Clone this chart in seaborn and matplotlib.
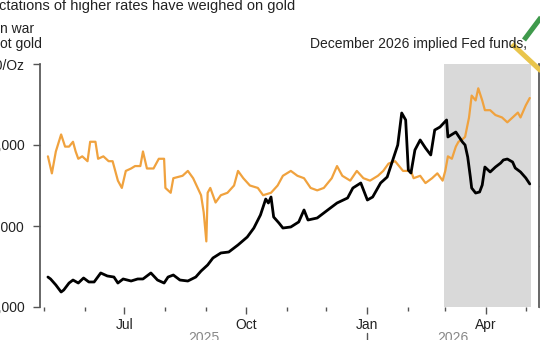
# %% IMPORTS
import matplotlib.dates as mdates
import matplotlib.pyplot as plt
import matplotlib.transforms as mtransforms
from matplotlib.lines import Line2D
import pandas as pd
import seaborn as sns

# %% DATA
gold_dates = [
    "2025-05-04", "2025-05-06", "2025-05-10", "2025-05-14", "2025-05-16", "2025-05-20",
    "2025-05-23", "2025-05-27", "2025-05-31", "2025-06-04", "2025-06-08", "2025-06-13",
    "2025-06-18", "2025-06-23", "2025-06-26", "2025-06-30", "2025-07-06", "2025-07-11",
    "2025-07-15", "2025-07-21", "2025-07-26", "2025-07-31", "2025-08-03", "2025-08-07",
    "2025-08-12", "2025-08-18", "2025-08-24", "2025-08-28", "2025-09-02", "2025-09-06",
    "2025-09-12", "2025-09-18", "2025-09-25", "2025-10-02", "2025-10-07", "2025-10-12",
    "2025-10-16", "2025-10-18", "2025-10-20", "2025-10-22", "2025-10-26", "2025-10-29",
    "2025-11-04", "2025-11-10", "2025-11-14", "2025-11-17", "2025-11-24", "2025-12-02",
    "2025-12-09", "2025-12-17", "2025-12-21", "2025-12-27", "2026-01-01", "2026-01-05",
    "2026-01-11", "2026-01-16", "2026-01-21", "2026-01-24", "2026-01-27", "2026-01-30",
    "2026-02-01", "2026-02-03", "2026-02-06", "2026-02-10", "2026-02-14", "2026-02-18",
    "2026-02-21", "2026-02-25", "2026-03-02", "2026-03-03", "2026-03-09", "2026-03-14",
    "2026-03-16", "2026-03-18", "2026-03-20", "2026-03-21", "2026-03-24", "2026-03-27",
    "2026-03-29", "2026-03-31", "2026-04-04", "2026-04-08", "2026-04-12", "2026-04-14",
    "2026-04-17", "2026-04-21", "2026-04-23", "2026-04-27", "2026-05-01", "2026-05-04",
]
gold_price = [
    3370, 3346, 3272, 3185, 3210, 3296,
    3333, 3296, 3358, 3309, 3309, 3420,
    3383, 3370, 3296, 3346, 3321, 3346,
    3346, 3420, 3333, 3296, 3370, 3395,
    3333, 3321, 3370, 3444, 3519, 3605,
    3667, 3679, 3766, 3864, 3975, 4136,
    4333, 4284, 4358, 4111, 4037, 3975,
    3988, 4050, 4198, 4074, 4099, 4198,
    4284, 4346, 4469, 4531, 4321, 4358,
    4531, 4605, 4852, 5000, 5395, 5309,
    4691, 4654, 4938, 5062, 4963, 4877,
    5185, 5222, 5309, 5099, 5160, 5037,
    5000, 4852, 4605, 4469, 4407, 4420,
    4506, 4728, 4667, 4728, 4778, 4815,
    4827, 4790, 4716, 4667, 4593, 4519,
]

fed_dates = [
    "2025-05-04", "2025-05-07", "2025-05-10", "2025-05-14", "2025-05-17", "2025-05-20",
    "2025-05-23", "2025-05-25", "2025-05-27", "2025-05-30", "2025-06-03", "2025-06-05",
    "2025-06-09", "2025-06-11", "2025-06-15", "2025-06-19", "2025-06-22", "2025-06-26",
    "2025-06-29", "2025-07-02", "2025-07-06", "2025-07-09", "2025-07-13", "2025-07-15",
    "2025-07-18", "2025-07-23", "2025-07-27", "2025-07-31", "2025-08-01", "2025-08-05",
    "2025-08-07", "2025-08-14", "2025-08-18", "2025-08-22", "2025-08-28", "2025-08-30",
    "2025-09-01", "2025-09-02", "2025-09-04", "2025-09-08", "2025-09-12", "2025-09-17",
    "2025-09-22", "2025-09-25", "2025-09-29", "2025-10-04", "2025-10-10", "2025-10-14",
    "2025-10-20", "2025-10-25", "2025-10-29", "2025-11-04", "2025-11-09", "2025-11-14",
    "2025-11-19", "2025-11-24", "2025-11-29", "2025-12-05", "2025-12-09", "2025-12-13",
    "2025-12-19", "2025-12-24", "2025-12-29", "2026-01-03", "2026-01-09", "2026-01-13",
    "2026-01-17", "2026-01-22", "2026-01-28", "2026-02-03", "2026-02-05", "2026-02-10",
    "2026-02-14", "2026-02-19", "2026-02-23", "2026-02-27", "2026-03-01", "2026-03-03",
    "2026-03-06", "2026-03-09", "2026-03-11", "2026-03-14", "2026-03-16", "2026-03-19",
    "2026-03-21", "2026-03-24", "2026-03-26", "2026-03-29", "2026-03-31", "2026-04-04",
    "2026-04-08", "2026-04-13", "2026-04-17", "2026-04-21", "2026-04-25", "2026-04-27",
    "2026-05-01", "2026-05-04",
]
fed_rate = [
    3.12, 3.05, 3.14, 3.21, 3.16, 3.16,
    3.18, 3.14, 3.11, 3.12, 3.10, 3.18,
    3.18, 3.11, 3.12, 3.10, 3.10, 3.02,
    2.99, 3.06, 3.07, 3.08, 3.08, 3.14,
    3.07, 3.07, 3.11, 3.11, 2.99, 2.97,
    3.03, 3.04, 3.06, 3.03, 2.96, 2.89,
    2.77, 2.97, 2.99, 2.93, 2.96, 2.97,
    3.00, 3.06, 3.03, 3.00, 2.99, 2.96,
    2.97, 3.00, 3.04, 3.06, 3.04, 3.03,
    2.99, 2.98, 2.99, 3.03, 3.08, 3.04,
    3.02, 3.06, 3.03, 3.02, 3.04, 3.06,
    3.09, 3.10, 3.06, 3.06, 3.03, 3.04,
    3.01, 3.03, 3.05, 3.02, 3.06, 3.12,
    3.11, 3.16, 3.18, 3.19, 3.20, 3.28,
    3.37, 3.35, 3.40, 3.35, 3.31, 3.31,
    3.29, 3.28, 3.26, 3.28, 3.30, 3.28,
    3.33, 3.36,
]

war_start, war_end = "2026-02-28", "2026-05-05"
x_range = ("2025-04-28", "2026-05-11")
gold_ticks = [3000, 4000, 5000, 6000]
gold_tick_labels = ["3,000", "4,000", "5,000", "$6,000/Oz"]
fed_ticks = [2.5, 2.75, 3.0, 3.25, 3.5]
year_labels = ["2025", "2026"]

gold_df = pd.DataFrame({"date": pd.to_datetime(gold_dates), "price": gold_price})
fed_df = pd.DataFrame({"date": pd.to_datetime(fed_dates), "rate": fed_rate})

# %% STYLE
sns.set_theme(style="white")
plt.rcParams["font.family"] = ["Liberation Sans", "DejaVu Sans"]
axis_grey = "#555555"
text_col = "#222222"
orange = "#f0a23e"

# %% VISUALISE
W, H = 540, 340
fig = plt.figure(figsize=(W / 100, H / 100), dpi=100)
ax = fig.add_axes([40 / W, 1 - 307 / H, 499 / W, 243 / H])
ax2 = ax.twinx()

# shaded Iran war period + implied Fed funds go on the back axis
ax2.axvspan(pd.Timestamp(war_start), pd.Timestamp(war_end), color="#d9d9d9", lw=0, zorder=0)
sns.lineplot(data=fed_df, x="date", y="rate", ax=ax2, color=orange, lw=1.6)
sns.lineplot(data=gold_df, x="date", y="price", ax=ax, color="black", lw=2.0)

# gold axis on top so the black line sits over the orange one
ax.set_zorder(ax2.get_zorder() + 1)
ax.patch.set_visible(False)

x0, x1 = pd.Timestamp(x_range[0]), pd.Timestamp(x_range[1])
ax.set_xlim(x0, x1)
ax.set_ylim(gold_ticks[0], gold_ticks[-1])
ax2.set_ylim(fed_ticks[0], fed_ticks[-1])

for a in (ax, ax2):
    a.set_xlabel("")
    a.set_ylabel("")
    for s in a.spines.values():
        s.set_visible(False)
ax.spines["left"].set_visible(True)
ax.spines["left"].set_color(axis_grey)
ax2.spines["right"].set_visible(True)
ax2.spines["right"].set_color(axis_grey)

# y axes
ax.set_yticks(gold_ticks, gold_tick_labels)
ax.tick_params(axis="y", length=5, width=1, color=axis_grey, pad=6,
               labelsize=10, labelcolor=text_col, left=True)
ax2.set_yticks(fed_ticks, [f"{v:.2f}" for v in fed_ticks])
ax2.tick_params(axis="y", length=5, width=1, color=axis_grey, right=True,
                labelsize=10, labelcolor=text_col)

# x axis: months, quarter labels
ax.xaxis.set_major_locator(mdates.MonthLocator(bymonth=[1, 4, 7, 10]))
ax.xaxis.set_major_formatter(mdates.DateFormatter("%b"))
ax.xaxis.set_minor_locator(mdates.MonthLocator())
ax.tick_params(axis="x", which="major", length=5, width=1, color=axis_grey,
               pad=3, labelsize=10, labelcolor=text_col, bottom=True)
ax.tick_params(axis="x", which="minor", length=3, width=1, color=axis_grey, bottom=True)

# year row
jan1 = pd.Timestamp("2026-01-01")
trans = mtransforms.blended_transform_factory(ax.transData, ax.transAxes)
ax.axvline(jan1, ymin=-0.14, ymax=-0.105, color=axis_grey, lw=1, clip_on=False)
for lbl, (a, b) in zip(year_labels, [(x0, jan1), (jan1, x1)]):
    ax.text(a + (b - a) / 2, -0.128, lbl, transform=trans, ha="center", va="center",
            fontsize=10, color="#888888")

# header texts (cropped at the image edge)
fig.text(-1 / W, 1 - 10 / H, "ctations of higher rates have weighed on gold",
         fontsize=10.5, color=text_col, va="baseline")
fig.text(0, 1 - 33 / H, "n war", fontsize=10, color=text_col, va="baseline")
fig.text(0, 1 - 48 / H, "ot gold", fontsize=10, color=text_col, va="baseline")
fig.text(310 / W, 1 - 48 / H, "December 2026 implied Fed funds,", fontsize=10,
         color=text_col, va="baseline")

# corner logo strokes
fig.add_artist(Line2D([512 / W, 541 / W], [1 - 44 / H, 1 - 71 / H], color="#e9c54c",
                      lw=3.6, solid_capstyle="butt"))
fig.add_artist(Line2D([524 / W, 542 / W], [1 - 40 / H, 1 - 16 / H], color="#3f9a4c",
                      lw=3.6, solid_capstyle="butt"))

fig.savefig("out.png", dpi=100)
